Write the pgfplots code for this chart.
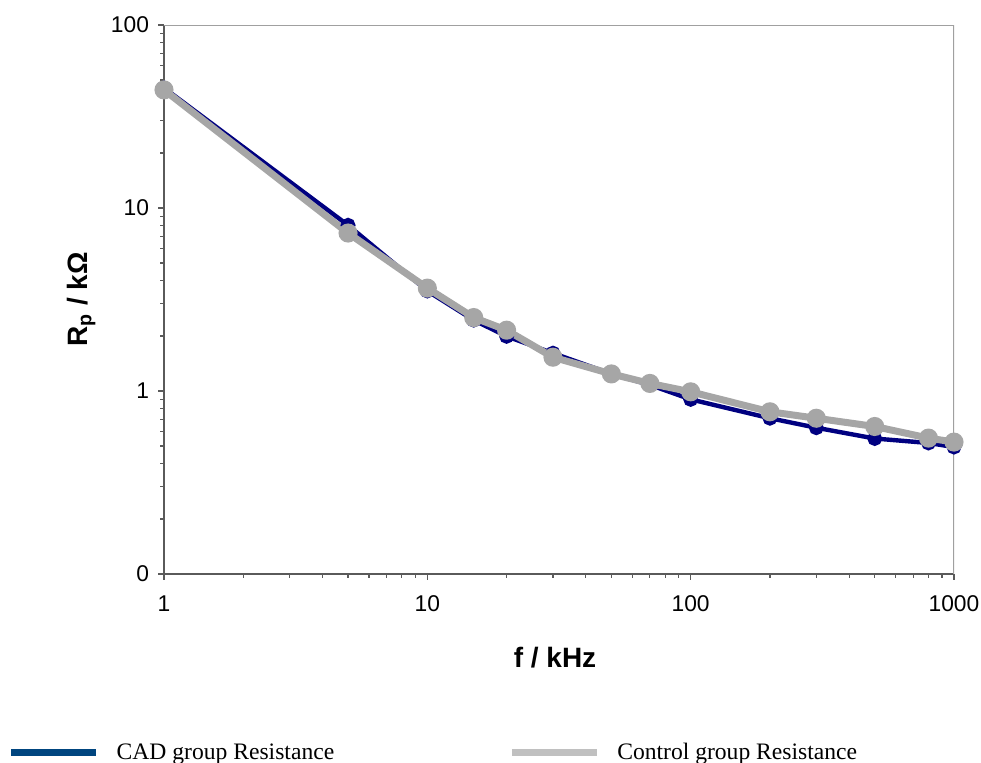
\documentclass[border=0pt]{standalone}
\usepackage{fontspec}
\setmainfont{Liberation Sans}
\newfontfamily\serifleg{Liberation Serif}
\usepackage{pgfplots}
\pgfplotsset{compat=1.18}
\definecolor{cadline}{HTML}{000080}
\definecolor{ctrlline}{HTML}{A6A6A6}
\definecolor{cadleg}{HTML}{00457F}
\definecolor{ctrlleg}{HTML}{C0C0C0}
\definecolor{axdark}{HTML}{5A5A5A}
\definecolor{axlight}{HTML}{A0A0A0}
\begin{document}
\begin{tikzpicture}
\begin{axis}[
  at={(0,0)}, anchor=south west,
  scale only axis, width=395pt, height=274.5pt,
  xmode=log, ymode=log,
  xmin=1, xmax=1000, ymin=0.1, ymax=100,
  axis lines*=left,
  axis line style={axdark, line width=0.8pt},
  every tick/.style={axdark, line width=0.6pt},
  tick align=outside,
  major tick length=3pt, minor tick length=2pt,
  xtick={1,10,100,1000}, xticklabels={1,10,100,1000},
  ytick={0.1,1,10,100}, yticklabels={0,1,10,100},
  /pgf/number format/assume math mode=true,
  tick label style={font=\fontsize{11.4}{13}\selectfont},
  xticklabel style={yshift=-4.5pt},
  yticklabel style={xshift=-1pt},
  xlabel={\textbf{f / kHz}},
  ylabel={\textbf{R\textsubscript{p} / kΩ}},
  label style={font=\fontsize{14}{16}\selectfont},
  xlabel style={at={(axis description cs:0.495,-0.153)}, anchor=center},
  ylabel style={at={(axis description cs:-0.105,0.5)}, anchor=center},
  legend style={at={(axis description cs:-0.206,-0.326)}, anchor=west, draw=none,
    fill=none, legend columns=2, font=\serifleg\fontsize{11.8}{14}\selectfont,
    /tikz/every odd column/.append style={column sep=6.5pt},
    /tikz/every even column/.append style={column sep=85pt}},
  legend cell align=left,
]
\addplot[cadline, line width=2.2pt, mark=*, mark size=2.6pt,
  legend image code/.code={\draw[cadleg, line width=3.5pt] (0pt,0pt) -- (42.5pt,0pt);}]
  coordinates {(1,45.3) (5,8.05) (10,3.52) (15,2.44) (20,1.99) (30,1.61) (50,1.24) (70,1.08) (100,0.90) (200,0.71) (300,0.63) (500,0.55) (800,0.52) (1000,0.494)};
\addlegendentry{CAD group Resistance}
\addplot[ctrlline, line width=3.5pt, mark=*, mark size=3pt,
  legend image code/.code={\draw[ctrlleg, line width=3.5pt] (0pt,0pt) -- (42.5pt,0pt);}]
  coordinates {(1,44.2) (5,7.3) (10,3.65) (15,2.52) (20,2.15) (30,1.53) (50,1.24) (70,1.10) (100,0.99) (200,0.77) (300,0.71) (500,0.64) (800,0.553) (1000,0.526)};
\addlegendentry{Control group Resistance}
\draw[axlight, line width=0.8pt] (rel axis cs:0,1) -- (rel axis cs:1,1) -- (rel axis cs:1,0);
\end{axis}
\pgfresetboundingbox
\useasboundingbox (-82pt,-94pt) rectangle (408.5pt,287pt);
\end{tikzpicture}
\end{document}
